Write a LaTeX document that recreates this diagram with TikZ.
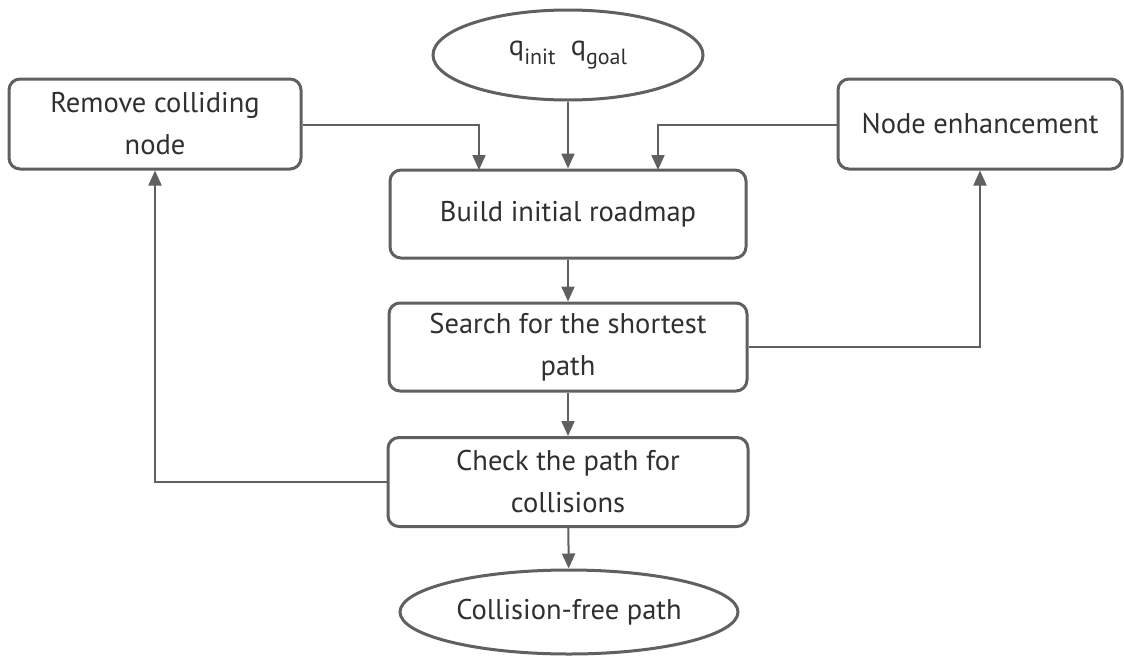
\documentclass[tikz,border=0pt]{standalone}
\usepackage{fontspec}
\setmainfont{PT Sans}
\usetikzlibrary{shapes.geometric,arrows.meta}
\definecolor{linegray}{HTML}{606060}
\definecolor{textgray}{HTML}{303030}
\begin{document}
\begin{tikzpicture}[x=1pt,y=-1pt,
  box/.style={draw=linegray,line width=3pt,rounded corners=11pt,fill=white,
    text=textgray,align=center,inner sep=0pt,font=\fontsize{28.5}{42}\selectfont},
  oval/.style={ellipse,draw=linegray,line width=3pt,fill=white,text=textgray,
    inner sep=0pt,font=\fontsize{28.5}{42}\selectfont},
  conn/.style={draw=linegray,line width=2pt,-{Triangle[width=13pt,length=15pt]}}]
\useasboundingbox (0,0) rectangle (1124,656);
\node[oval,minimum width=270pt,minimum height=90pt] (start) at (568,55)
  {q\raisebox{-0.3em}{\fontsize{22}{22}\selectfont init}\ \ q\raisebox{-0.3em}{\fontsize{22}{22}\selectfont goal}};
\node[box,minimum width=356pt,minimum height=88pt] (build) at (568,214) {Build initial roadmap};
\node[box,minimum width=292pt,minimum height=90pt] (remove) at (155,124) {Remove colliding\\node};
\node[box,minimum width=284pt,minimum height=90pt] (enh) at (980,124) {Node enhancement};
\node[box,minimum width=358pt,minimum height=88pt] (search) at (568,347) {Search for the shortest\\path};
\node[box,minimum width=360pt,minimum height=89pt] (check) at (568,482) {Check the path for\\collisions};
\node[oval,minimum width=338pt,minimum height=84pt] (end) at (569,612) {Collision-free path};
\draw[conn] (start) -- (build);
\draw[conn] (remove.east |- 0,125) -| (479,170);
\draw[conn] (enh.west |- 0,125) -| (658,170);
\draw[conn] (build) -- (search);
\draw[conn] (search) -- (check);
\draw[conn] (check) -- (end);
\draw[conn] (search.east) -| (enh.south);
\draw[conn] (check.west) -| (remove.south);
\end{tikzpicture}
\end{document}
